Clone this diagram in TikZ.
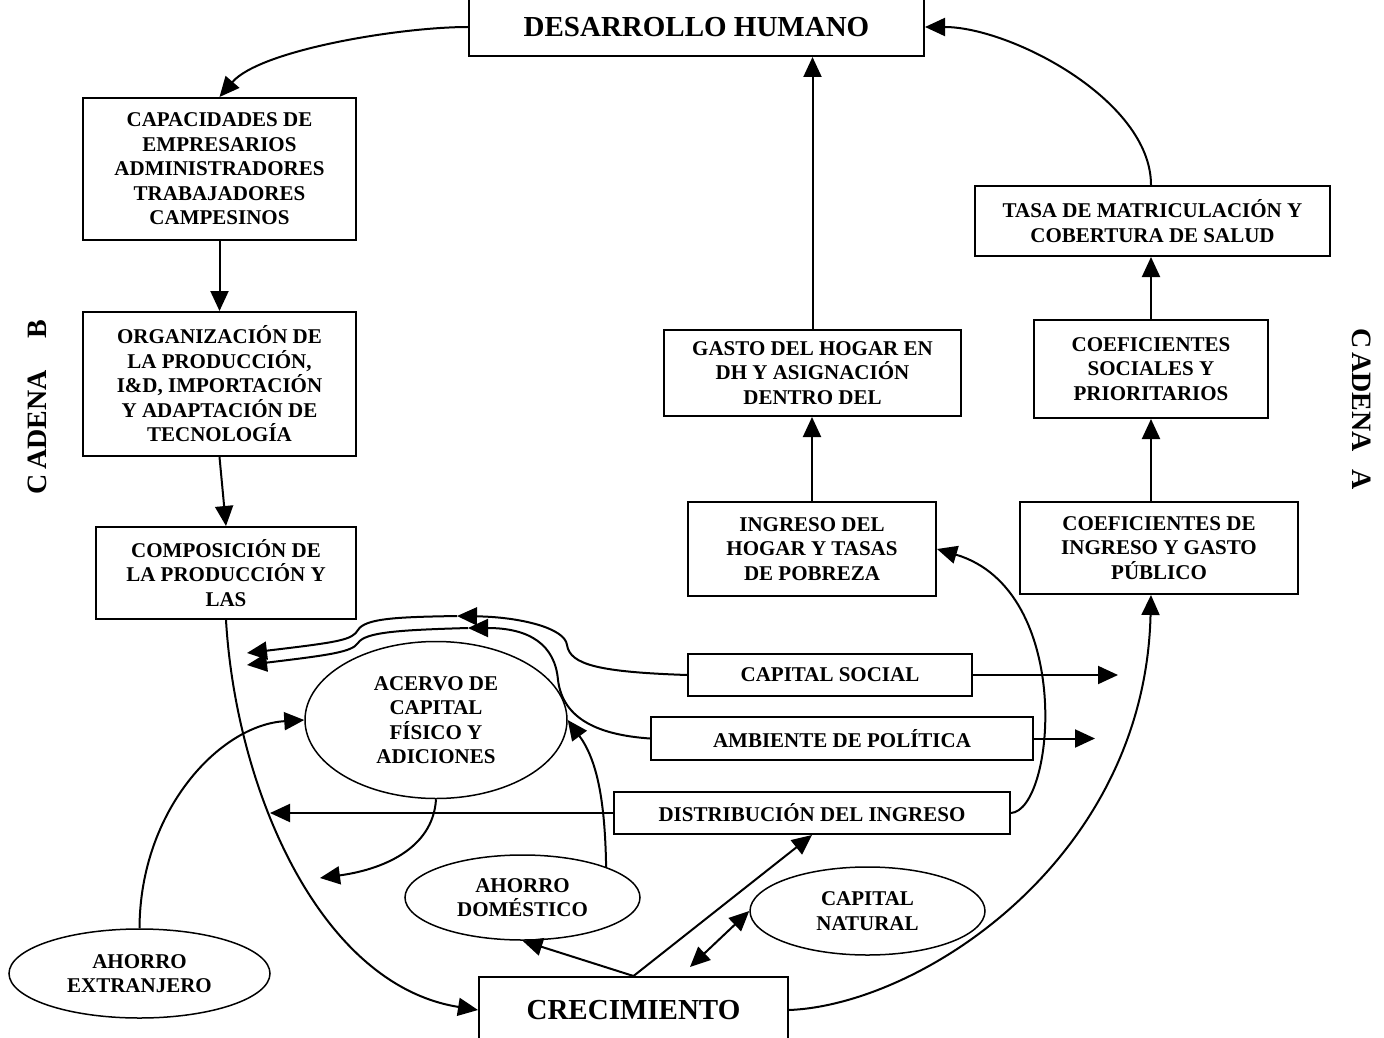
\documentclass[tikz,border=0pt]{standalone}
\usepackage{fontspec}
\setmainfont{Liberation Serif}
\usetikzlibrary{arrows.meta,shapes.geometric}
\begin{document}
\begin{tikzpicture}[x=1pt,y=-1pt,
  txt/.style={font=\fontsize{21}{24.5}\selectfont\bfseries, align=center},
  box/.style={txt, draw, line width=2pt, rectangle, inner sep=0pt},
  oval/.style={txt, draw, line width=1.5pt, ellipse, inner sep=0pt},
  big/.style={font=\fontsize{29}{33}\selectfont\bfseries},
  side/.style={font=\fontsize{28}{32}\selectfont\bfseries, inner sep=0pt},
  con/.style={line width=2pt},
  arr/.style={con, -{Triangle[length=20pt,width=18pt]}},
  dbl/.style={con, {Triangle[length=20pt,width=18pt]}-{Triangle[length=20pt,width=18pt]}}]
\clip (0,0) rectangle (1384,1038);

% boxes
\node[box, big, minimum width=455pt, minimum height=58pt] (dh) at (696.5,27) {DESARROLLO HUMANO};
\node[box, minimum width=273pt, minimum height=142pt] (cap) at (219.5,169) {CAPACIDADES DE\\EMPRESARIOS\\ADMINISTRADORES\\TRABAJADORES\\CAMPESINOS};
\node[box, minimum width=273pt, minimum height=144pt] (org) at (219.5,384) {ORGANIZACIÓN DE\\LA PRODUCCIÓN,\\I\&D, IMPORTACIÓN\\Y ADAPTACIÓN DE\\TECNOLOGÍA};
\node[box, minimum width=260pt, minimum height=92pt] (comp) at (226,573) {COMPOSICIÓN DE\\LA PRODUCCIÓN Y\\LAS};
\node[box, minimum width=297pt, minimum height=86pt] (gasto) at (812.5,373) {GASTO DEL HOGAR EN\\DH Y ASIGNACIÓN\\DENTRO DEL};
\node[box, minimum width=248pt, minimum height=94pt] (ing) at (812,549) {INGRESO DEL\\HOGAR Y TASAS\\DE POBREZA};
\node[box, minimum width=355pt, minimum height=70pt] (tasa) at (1152.5,221) {TASA DE MATRICULACIÓN Y\\COBERTURA DE SALUD};
\node[box, minimum width=234pt, minimum height=98pt] (csoc) at (1151,369) {COEFICIENTES\\SOCIALES Y\\PRIORITARIOS};
\node[box, minimum width=278pt, minimum height=92pt] (cing) at (1159,548) {COEFICIENTES DE\\INGRESO Y GASTO\\PÚBLICO};
\node[box, minimum width=284pt, minimum height=42pt] (csocial) at (830,675) {CAPITAL SOCIAL};
\node[box, minimum width=382pt, minimum height=43pt] (amb) at (842,738.5) {AMBIENTE DE POLÍTICA};
\node[box, minimum width=396pt, minimum height=42pt] (dist) at (812,813) {DISTRIBUCIÓN DEL INGRESO};
\node[box, big, minimum width=309pt, minimum height=66pt] (crec) at (633.5,1010) {CRECIMIENTO};

% ellipses
\node[oval, minimum width=262pt, minimum height=157pt] (acervo) at (436,720) {ACERVO DE\\CAPITAL\\FÍSICO Y\\ADICIONES};
\node[oval, minimum width=235pt, minimum height=85pt] (adom) at (522.5,897.5) {AHORRO\\DOMÉSTICO};
\node[oval, minimum width=235pt, minimum height=88pt] (cnat) at (867.5,911) {CAPITAL\\NATURAL};
\node[oval, minimum width=261pt, minimum height=89pt] (aext) at (139.5,973.5) {AHORRO\\EXTRANJERO};

% side labels
\node[side, rotate=90] (cb) at (37,407.5) {C\kern5pt ADENA\kern31pt B};
\node[side, rotate=-90] (ca) at (1362,409) {C\kern4pt ADENA\kern18pt A};

% free ends
\coordinate (m1) at (457,616);
\coordinate (e1) at (247,653);
\coordinate (m2) at (468,628);
\coordinate (e2) at (247,665);
\coordinate (e3) at (1118,675);
\coordinate (e4) at (1095,738.5);
\coordinate (e5) at (270,813);
\coordinate (e6) at (320,878);
\coordinate (e7) at (690,967);

% connectors
\draw[arr] (dh.west) .. controls (400,27) and (260,50) .. (cap.north);
\draw[arr] (cap.south) -- (org.north);
\draw[arr] (org.south) -- (comp.north);
\draw[arr] (gasto.north) -- (gasto.north |- dh.south);
\draw[arr] (ing.north) -- (ing.north |- gasto.south);
\draw[arr] (csoc.north) -- (csoc.north |- tasa.south);
\draw[arr] (csoc.south |- cing.north) -- (csoc.south);
\draw[arr] (csoc.north |- tasa.north) .. controls (1151,100) and (1010,27) .. (dh.east);
\draw[arr] (comp.south) .. controls (236,790) and (320,985) .. (crec.west);
\draw[arr] (crec.east) .. controls (920,1005) and (1145,860) .. (csoc.south |- cing.south);
\draw[arr] (dist.east) .. controls (1055,810) and (1075,590) .. (ing.east);

\draw[arr] (csocial.west) .. controls (600,672) and (570,665) .. (567,645) .. controls (565,628) and (520,617) .. (m1);
\draw[arr] (m1) .. controls (400,617) and (365,618) .. (358,630) .. controls (352,640) and (340,642) .. (e1);
\draw[arr] (amb.west) .. controls (600,735) and (563,720) .. (558,680) .. controls (555,645) and (530,628) .. (m2);
\draw[arr] (m2) .. controls (400,630) and (365,632) .. (358,643) .. controls (352,652) and (330,655) .. (e2);

\draw[arr] (csocial.east) -- (e3);
\draw[arr] (amb.east) -- (e4);
\draw[arr] (dist.west) -- (e5);
\draw[arr] (acervo.south) .. controls (433,850) and (380,870) .. (e6);
\draw[arr] (adom.north east) .. controls (605,800) and (597,760) .. (acervo.east);
\draw[arr] (aext.north) .. controls (140,810) and (220,725) .. (acervo.west);
\draw[arr] (crec.north) -- (adom.south);
\draw[arr] (crec.north) -- (dist.south);
\draw[dbl] (e7) -- (cnat.west);
\end{tikzpicture}
\end{document}
